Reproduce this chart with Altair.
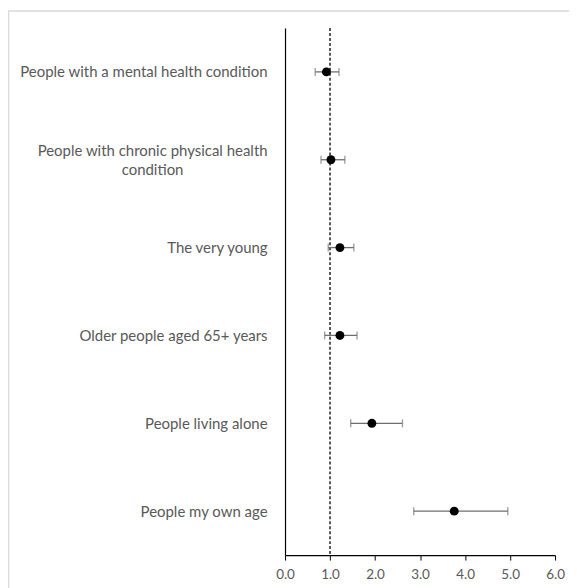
import altair as alt
import pandas as pd

categories = [
    "People with a mental health condition",
    "People with chronic physical health condition",
    "The very young",
    "Older people aged 65+ years",
    "People living alone",
    "People my own age",
]
estimate = [0.92, 1.02, 1.22, 1.22, 1.93, 3.76]
lower = [0.67, 0.80, 0.96, 0.88, 1.46, 2.86]
upper = [1.20, 1.33, 1.53, 1.60, 2.61, 4.95]
reference_value = [1.0]
x_ticks = [0, 1, 2, 3, 4, 5, 6]

df = pd.DataFrame({"cat": categories, "est": estimate, "lo": lower, "hi": upper})
ref = pd.DataFrame({"x": reference_value})

FONT = "Lato"
TXT = "#595959"

yscale = alt.Scale(type="point", domain=categories, padding=0.5)
xscale = alt.Scale(domain=[0, 6], nice=False, zero=False)

wrapped = "People with chronic physical health condition"
pad = "\u00a0" * 22 + "\u200b"
label_expr = (
    "datum.label == '" + wrapped + "' ? "
    "['People with chronic physical health', 'condition" + pad + "'] : datum.label"
)

base = alt.Chart(df)

yaxis = alt.Axis(
    title=None, ticks=False, labelPadding=18, labelFontSize=15, labelFont=FONT,
    labelColor=TXT, labelLimit=300, domainColor="#000000", domainWidth=1.2,
    labelExpr=label_expr, labelLineHeight=19, grid=False,
    labelOffset={"condition": {"test": "datum.label == '" + wrapped + "'", "value": -9.5}, "value": 0},
)
xaxis = alt.Axis(
    title=None, values=x_ticks, format=".1f", labelFontSize=13.5, labelFont=FONT,
    labelColor=TXT, tickColor="#000000", tickSize=5, domainColor="#000000",
    domainWidth=1.2, labelPadding=7, grid=False, labelFlush=False, labelOverlap=False,
)

rules = base.mark_rule(color="#6f6f6f", strokeWidth=1.3).encode(
    x=alt.X("lo:Q", scale=xscale, axis=xaxis),
    x2="hi:Q",
    y=alt.Y("cat:N", scale=yscale, axis=yaxis, sort=categories),
)
cap_lo = base.mark_tick(color="#6f6f6f", thickness=1.3, size=8, orient="vertical").encode(
    x=alt.X("lo:Q", scale=xscale), y=alt.Y("cat:N", scale=yscale, sort=categories)
)
cap_hi = base.mark_tick(color="#6f6f6f", thickness=1.3, size=8, orient="vertical").encode(
    x=alt.X("hi:Q", scale=xscale), y=alt.Y("cat:N", scale=yscale, sort=categories)
)
refline = alt.Chart(ref).mark_rule(color="#000000", strokeDash=[3, 2], strokeWidth=1.3).encode(
    x=alt.X("x:Q", scale=xscale)
)
points = base.mark_point(filled=True, color="#000000", size=80, opacity=1).encode(
    x=alt.X("est:Q", scale=xscale), y=alt.Y("cat:N", scale=yscale, sort=categories)
)

# light outer frame (top and left edges of the chart area)
frame_top = alt.Chart(ref).mark_rule(color="#d9d9d9", strokeWidth=1.5).encode(
    x=alt.value(-278), x2=alt.value(320), y=alt.value(-17)
)
frame_left = alt.Chart(ref).mark_rule(color="#d9d9d9", strokeWidth=1.5).encode(
    x=alt.value(-277.5), y=alt.value(-17), y2=alt.value(570)
)

chart = alt.layer(frame_top, frame_left, refline, rules, cap_lo, cap_hi, points).properties(
    width=271, height=529,
    autosize=alt.AutoSizeParams(type="none"),
    padding={"left": 278, "top": 19, "right": 14, "bottom": 32},
).configure_view(stroke=None)

chart.save("out.html", embed_options={"renderer": "svg", "actions": False})
